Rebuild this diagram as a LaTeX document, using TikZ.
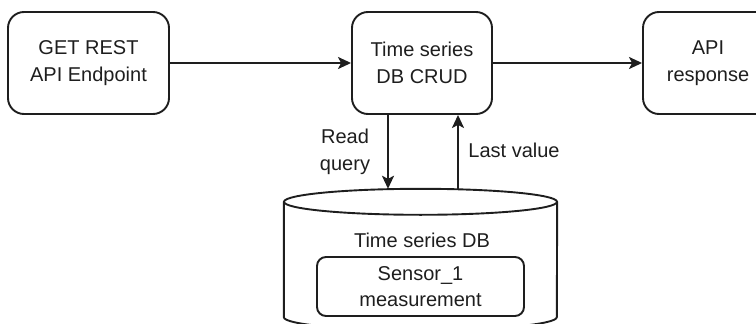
\documentclass[tikz,border=0pt]{standalone}
\usepackage{fontspec}
\setmainfont{Liberation Sans}
\usetikzlibrary{arrows.meta,calc}
\definecolor{ink}{HTML}{1E1E1E}
\begin{document}
\begin{tikzpicture}[x=1pt,y=-1pt,
  every node/.style={text=ink, font=\fontsize{20}{26.5}\selectfont, align=center, inner sep=0pt},
  box/.style={draw=ink, line width=1.9pt, rounded corners=16pt, minimum height=102pt},
  inner/.style={draw=ink, line width=1.9pt, rounded corners=9pt, minimum width=207pt, minimum height=59pt},
  arr/.style={draw=ink, line width=1.9pt, -{Stealth[length=13pt,width=12pt,inset=3pt]}},
  lbl/.style={}]
\useasboundingbox (0,0) rectangle (756,324);
\clip (0,0) rectangle (756,324);

% top row
\node[box, minimum width=161pt] (get)  at (88.5,63) {GET REST\\API Endpoint};
\node[box, minimum width=140pt] (crud) at (422,63)  {Time series\\DB CRUD};
\node[box, minimum width=130pt] (resp) at (708,63)  {API\\response};

% database cylinder: body spans from top ellipse rim to bottom rim
\node[minimum width=273pt, minimum height=141pt] (db) at (420.5,259.5) {};
\draw[ink, line width=1.9pt]
  ($(db.north west)+(0,13)$) -- ($(db.south west)+(0,-13)$)
  arc[start angle=180, end angle=360, x radius=136.5pt, y radius=13pt]
  -- ($(db.north east)+(0,13)$);
\draw[ink, line width=1.9pt] ($(db.north)+(0,13)$) ellipse[x radius=136.5pt, y radius=13pt];
\node (dblabel) at (422,240) {Time series DB};
\node[inner] (sensor) at (420.5,286.5) {Sensor\_1\\measurement};

% connectors
\draw[arr] (get.east) -- (crud.west);
\draw[arr] (crud.east) -- (resp.west);
\draw[arr] ([xshift=-34pt]crud.south) -- ([xshift=-34pt]crud.south |- db.north);
\draw[arr] ([xshift=36pt]crud.south |- db.north) -- ([xshift=36pt]crud.south);

% connector labels
\node[lbl] (rq) at (345,152) {Read\\query};
\node[lbl] (lv) at (514,150) {Last value};
\end{tikzpicture}
\end{document}
